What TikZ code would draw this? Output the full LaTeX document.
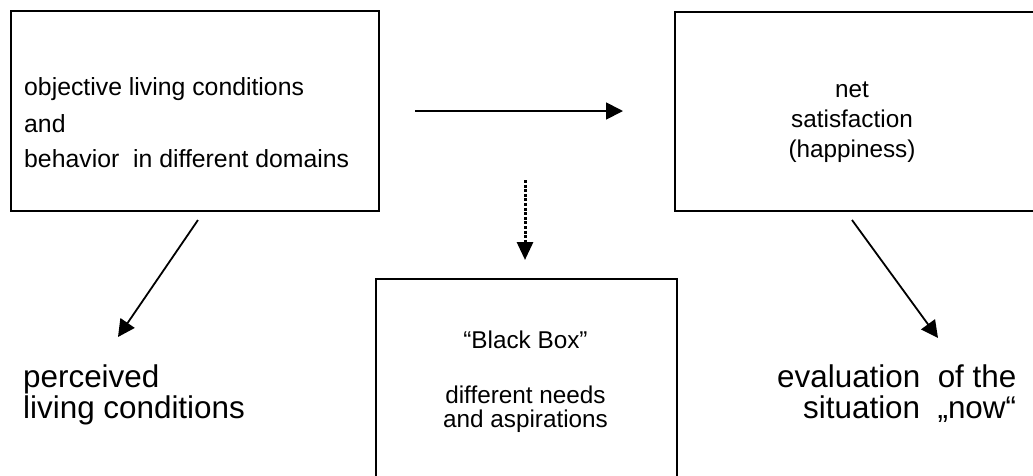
\documentclass[tikz,border=0pt]{standalone}
\usepackage{fontspec}
\setmainfont{Liberation Sans}
\usetikzlibrary{arrows.meta}
\begin{document}
\begin{tikzpicture}[x=1pt,y=-1pt,
  box/.style={draw,line width=2pt,inner sep=0pt,anchor=north west},
  txt/.style={inner sep=0pt,font=\fontsize{24.3}{28}\selectfont},
  big/.style={inner sep=0pt,font=\fontsize{31.4}{36}\selectfont,anchor=base west},
  arr/.style={line width=1.8pt,-{Triangle[length=17pt,width=17pt]}},
  dotarr/.style={line width=3pt,dash pattern=on 3pt off 1.6pt,-{Triangle[length=18pt,width=16pt]}},
]
\clip (0,0) rectangle (1033,475);
\fill[white] (0,0) rectangle (1033,475);
% boxes
\node[box,minimum width=368pt,minimum height=200pt] (obj) at (10,10) {};
\node[box,minimum width=400pt,minimum height=199pt] (net) at (674,11) {};
\node[box,minimum width=301pt,minimum height=260pt] (bb) at (375,278) {};
% box texts
\node[txt,anchor=base west,font=\fontsize{24.8}{28}\selectfont] (o1) at (24,95) {objective living conditions};
\node[txt,anchor=base west,font=\fontsize{24.8}{28}\selectfont] (o2) at (24,132) {and};
\node[txt,anchor=base west,font=\fontsize{24.8}{28}\selectfont] (o3) at (24,167) {behavior\ \ in different domains};
\node[txt,anchor=base] (n1) at (852,97) {net};
\node[txt,anchor=base] (n2) at (852,127) {satisfaction};
\node[txt,anchor=base] (n3) at (852,157) {(happiness)};
\node[txt,anchor=base] (k1) at (525.5,348) {“Black Box”};
\node[txt,anchor=base] (k2) at (525.5,403) {different needs};
\node[txt,anchor=base] (k3) at (525.5,427) {and aspirations};
% outer labels
\node[big] (p1) at (23,387) {perceived};
\node[big] (p2) at (23,418) {living conditions};
\node[big] (e1) at (777,387) {evaluation\ \ of the};
\node[big] (e2) at (803,418) {situation\ \ „now“};
% connector ends
\coordinate (hA) at (415,111);
\coordinate (hB) at (623,111);
\coordinate (dA) at (525,180);
\coordinate (dB) at (525,260);
\coordinate (lA) at (198,220);
\coordinate (lB) at (118,337);
\coordinate (rA) at (852,220);
\coordinate (rB) at (938,338);
% connectors
\draw[arr] (hA) -- (hB);
\draw[dotarr] (dA) -- (dB);
\draw[arr] (lA) -- (lB);
\draw[arr] (rA) -- (rB);
\end{tikzpicture}
\end{document}
